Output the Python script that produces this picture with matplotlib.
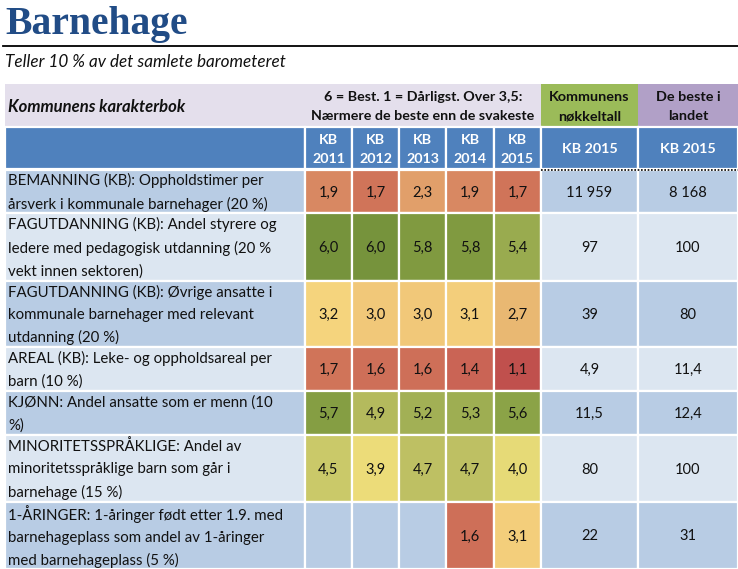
import numpy as np
import matplotlib as mpl
import matplotlib.pyplot as plt
from matplotlib.patches import Rectangle

plt.rcParams['font.family'] = ['Lato', 'DejaVu Sans']

#### data
years = ['2011', '2012', '2013', '2014', '2015']
row_labels = [
    'BEMANNING (KB): Oppholdstimer per\nårsverk i kommunale barnehager (20 %)',
    'FAGUTDANNING (KB): Andel styrere og\nledere med pedagogisk utdanning (20 %\nvekt innen sektoren)',
    'FAGUTDANNING (KB): Øvrige ansatte i\nkommunale barnehager med relevant\nutdanning (20 %)',
    'AREAL (KB): Leke- og oppholdsareal per\nbarn (10 %)',
    'KJØNN: Andel ansatte som er menn (10\n%)',
    'MINORITETSSPRÅKLIGE: Andel av\nminoritetsspråklige barn som går i\nbarnehage (15 %)',
    '1-ÅRINGER: 1-åringer født etter 1.9. med\nbarnehageplass som andel av 1-åringer\nmed barnehageplass (5 %)',
]
grades = np.array([
    [1.9, 1.7, 2.3, 1.9, 1.7],
    [6.0, 6.0, 5.8, 5.8, 5.4],
    [3.2, 3.0, 3.0, 3.1, 2.7],
    [1.7, 1.6, 1.6, 1.4, 1.1],
    [5.7, 4.9, 5.2, 5.3, 5.6],
    [4.5, 3.9, 4.7, 4.7, 4.0],
    [np.nan, np.nan, np.nan, 1.6, 3.1],
])
key_figures = [11959, 97, 39, 4.9, 11.5, 80, 22]
best_in_country = [8168, 100, 80, 11.4, 12.4, 100, 31]

#### layout (pixels)
col_edges = [5, 305, 352, 399, 446, 494, 541, 638, 738]
row_edges = [170, 213, 281, 347, 391, 435, 502, 569]
head1 = (84, 127)
head2 = (127, 169)

txt_color = '#111111'
blue_dark = '#4f81bd'
row_bg = ['#b8cce4', '#dce6f1']

# grade colour scale, red -> yellow -> green (anchors on the grade axis)
scale = [(1.0, '#bd4a48'), (1.1, '#c0504d'), (1.4, '#ca6555'), (1.7, '#d07559'),
         (1.9, '#d88862'), (2.3, '#e19f6a'), (2.7, '#e9b872'), (3.0, '#f1c879'),
         (3.2, '#f5d47d'), (3.5, '#f2d87c'), (3.9, '#ecdc79'), (4.0, '#e6da77'),
         (4.5, '#cbc969'), (4.7, '#bec063'), (4.9, '#b4ba5d'), (5.2, '#a3b055'),
         (5.4, '#9aac4f'), (5.6, '#8ba347'), (5.8, '#809a40'), (6.0, '#76933c')]
lo, hi = scale[0][0], scale[-1][0]
cmap = mpl.colors.LinearSegmentedColormap.from_list(
    'grade', [((v - lo) / (hi - lo), c) for v, c in scale])
norm = mpl.colors.Normalize(vmin=lo, vmax=hi)


def fmt(v):
    if float(v).is_integer():
        return '{:,}'.format(int(v)).replace(',', ' ')
    return '{:.1f}'.format(v).replace('.', ',')


def fmt_grade(v):
    return '{:.1f}'.format(v).replace('.', ',')


fig = plt.figure(figsize=(7.38, 5.69), dpi=100)
ax = fig.add_axes([0, 0, 1, 1])
ax.set_xlim(0, 738)
ax.set_ylim(569, 0)
ax.axis('off')


def cell(x0, x1, y0, y1, color, lw=1.6):
    ax.add_patch(Rectangle((x0, y0), x1 - x0, y1 - y0, facecolor=color,
                           edgecolor='white', linewidth=lw))


# title and subtitle
ax.text(5, 34, 'Barnehage', family='Liberation Serif', fontweight='bold',
        fontsize=28.5, color='#214c86', va='baseline', ha='left')
ax.plot([3, 738], [45.5, 45.5], color='black', lw=1.3)
ax.text(5, 62, 'Teller 10 % av det samlete barometeret', fontstyle='italic',
        fontsize=12.3, color=txt_color, va='center', ha='left')

# header row 1
cell(col_edges[0], col_edges[6], head1[0], head1[1], '#e4dfec', lw=0)
cell(col_edges[6], col_edges[7], head1[0], head1[1], '#9bbb59', lw=0)
cell(col_edges[7], col_edges[8], head1[0], head1[1], '#b1a0c7', lw=0)
hy = (head1[0] + head1[1]) / 2
ax.text(8, hy + 1, 'Kommunens karakterbok', fontstyle='italic', fontweight='bold',
        fontsize=12, color=txt_color, va='center', ha='left')
ax.text((col_edges[1] + col_edges[6]) / 2, hy + 1,
        '6 = Best. 1 = Dårligst. Over 3,5:\nNærmere de beste enn de svakeste',
        fontweight='bold', fontsize=10.3, color=txt_color, va='center', ha='center',
        linespacing=1.7)
ax.text((col_edges[6] + col_edges[7]) / 2, hy + 1, 'Kommunens\nnøkkeltall',
        fontweight='bold', fontsize=10.4, color=txt_color, va='center', ha='center',
        linespacing=1.7)
ax.text((col_edges[7] + col_edges[8]) / 2, hy + 1, 'De beste i\nlandet',
        fontweight='bold', fontsize=10.4, color=txt_color, va='center', ha='center',
        linespacing=1.7)

# header row 2
cell(col_edges[0], col_edges[1], head2[0], head2[1], blue_dark)
hy2 = (head2[0] + head2[1]) / 2
for i, yr in enumerate(years):
    x0, x1 = col_edges[i + 1], col_edges[i + 2]
    cell(x0, x1, head2[0], head2[1], blue_dark)
    ax.text((x0 + x1) / 2, hy2 + 1, 'KB\n' + yr, fontweight='bold', fontsize=10.3,
            color='white', va='center', ha='center', linespacing=1.7)
for j in (6, 7):
    cell(col_edges[j], col_edges[j + 1], head2[0], head2[1], blue_dark)
    ax.text((col_edges[j] + col_edges[j + 1]) / 2, hy2 + 1, 'KB 2015', fontweight='bold',
            fontsize=10.3, color='white', va='center', ha='center')

# body
for r, label in enumerate(row_labels):
    y0, y1 = row_edges[r], row_edges[r + 1]
    ym = (y0 + y1) / 2
    bg = row_bg[r % 2]
    cell(col_edges[0], col_edges[1], y0, y1, bg)
    ax.text(8, ym + 1, label, fontsize=10.8, color=txt_color, va='center', ha='left',
            linespacing=1.72)
    for c in range(len(years)):
        x0, x1 = col_edges[c + 1], col_edges[c + 2]
        v = grades[r, c]
        if np.isnan(v):
            cell(x0, x1, y0, y1, bg)
        else:
            cell(x0, x1, y0, y1, cmap(norm(v)))
            ax.text((x0 + x1) / 2, ym + 1, fmt_grade(v), fontsize=10.5, color=txt_color,
                    va='center', ha='center')
    for j, vals in ((6, key_figures), (7, best_in_country)):
        cell(col_edges[j], col_edges[j + 1], y0, y1, bg)
        ax.text((col_edges[j] + col_edges[j + 1]) / 2, ym + 1, fmt(vals[r]),
                fontsize=10.5, color=txt_color, va='center', ha='center')

# excel selection marker
ax.plot([col_edges[6], col_edges[8]], [169.5, 169.5], color='black', lw=1.2,
        linestyle=(0, (1, 1)))

fig.savefig('out.png', dpi=100)
